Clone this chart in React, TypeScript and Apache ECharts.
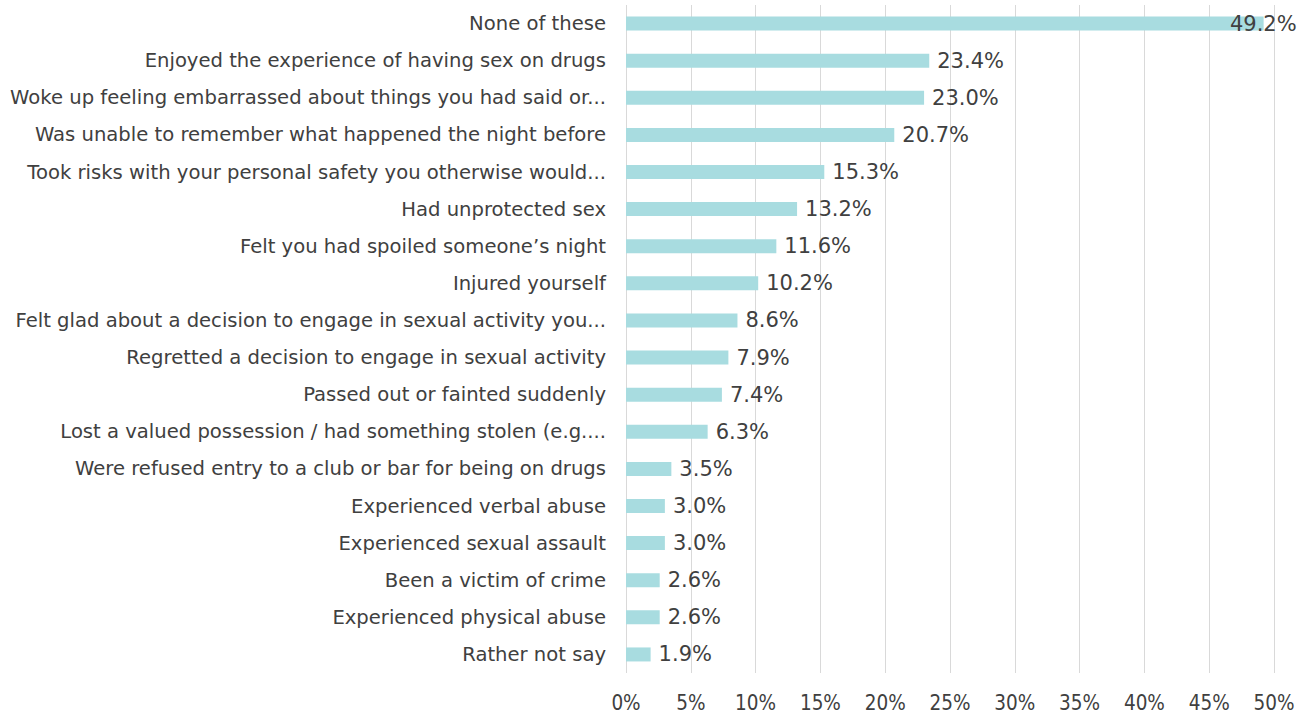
import React, { useEffect, useRef } from "react";
import * as echarts from "echarts";

const categories = [
  "None of these",
  "Enjoyed the experience of having sex on drugs",
  "Woke up feeling embarrassed about things you had said or...",
  "Was unable to remember what happened the night before",
  "Took risks with your personal safety you otherwise would...",
  "Had unprotected sex",
  "Felt you had spoiled someone\u2019s night",
  "Injured yourself",
  "Felt glad about a decision to engage in sexual activity you...",
  "Regretted a decision to engage in sexual activity",
  "Passed out or fainted suddenly",
  "Lost a valued possession / had something stolen (e.g....",
  "Were refused entry to a club or bar for being on drugs",
  "Experienced verbal abuse",
  "Experienced sexual assault",
  "Been a victim of crime",
  "Experienced physical abuse",
  "Rather not say",
];
const values = [49.2, 23.4, 23.0, 20.7, 15.3, 13.2, 11.6, 10.2, 8.6, 7.9, 7.4, 6.3, 3.5, 3.0, 3.0, 2.6, 2.6, 1.9];

const FONT = "DejaVu Sans";
const FONT_C = "DejaVu Sans Condensed";
const TEXT = "#404040";

export default function App() {
  const ref = useRef<HTMLDivElement>(null);
  useEffect(() => {
    if (!ref.current) return;
    const chart = echarts.init(ref.current, undefined, { renderer: "svg" });
    const cats = [...categories].reverse();
    const vals = [...values].reverse();
    const n = vals.length;
    chart.setOption({
      animation: false,
      grid: { left: 626, right: 40, top: 5, bottom: 41, containLabel: false, outerBoundsMode: "none" },
      xAxis: {
        type: "value",
        min: 0,
        max: 50,
        interval: 5,
        axisLabel: { formatter: "{value}%", color: TEXT, fontFamily: FONT_C, fontSize: 20.5, margin: 19 },
        splitLine: { show: true, lineStyle: { color: "#d9d9d9", width: 1 } },
        axisLine: { show: false },
        axisTick: { show: false },
      },
      yAxis: {
        type: "category",
        data: cats,
        axisLabel: { color: TEXT, fontFamily: FONT, fontSize: 19.6, margin: 20 },
        axisLine: { show: false },
        axisTick: { show: false },
      },
      series: [
        {
          type: "bar",
          barWidth: 14,
          itemStyle: { color: "#A8DCE0" },
          data: vals.map((v, i) =>
            i === n - 1
              ? { value: v, label: { position: "insideRight", offset: [41, 0] } }
              : v
          ),
          label: {
            show: true,
            position: "right",
            distance: 8,
            formatter: (p: any) => p.value.toFixed(1) + "%",
            color: TEXT,
            fontFamily: FONT,
            fontSize: 21,
          },
        },
      ],
    });
    return () => chart.dispose();
  }, []);
  return (
    <div
      ref={ref}
      style={{ position: "absolute", left: 0, top: 0, width: 1314, height: 714, background: "#fff" }}
    />
  );
}
